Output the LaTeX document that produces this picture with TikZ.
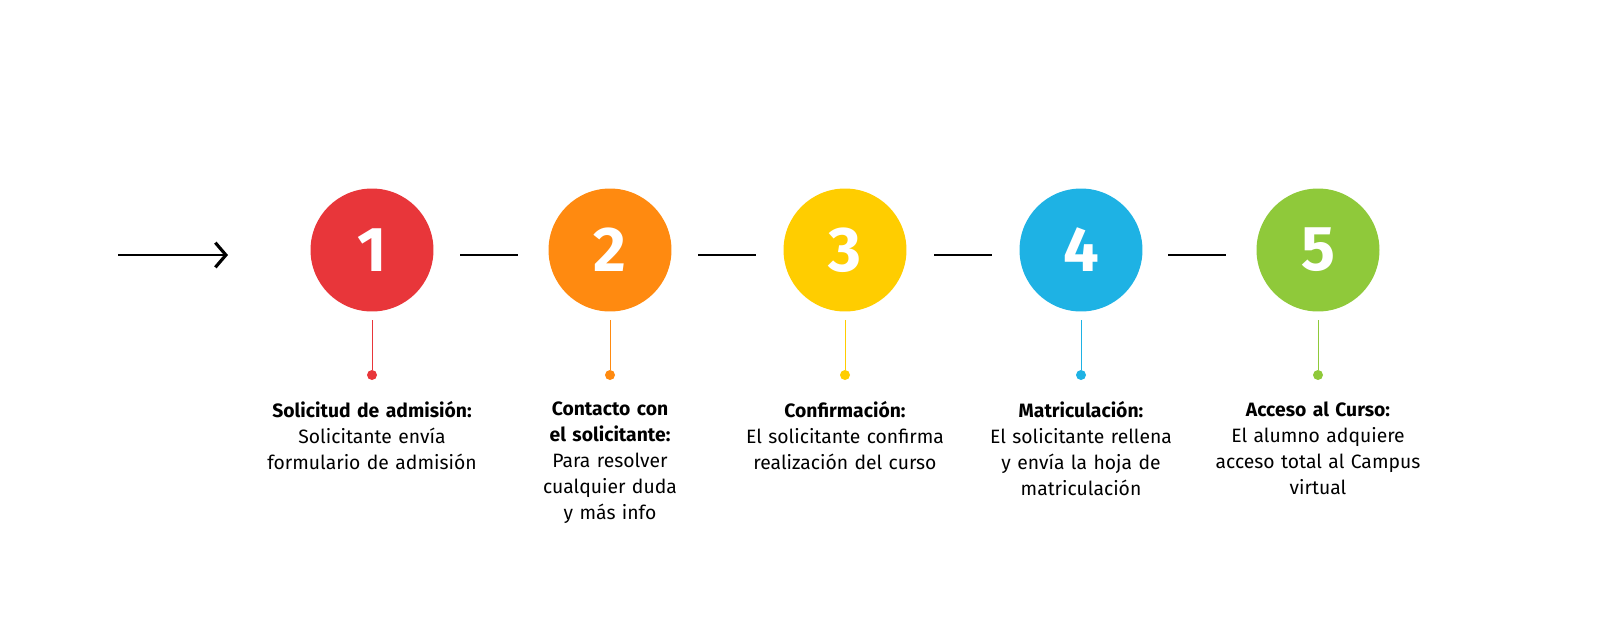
\documentclass[tikz,border=0pt]{standalone}
\usepackage{fontspec}
\setmainfont{Fira Sans}
\usetikzlibrary{arrows.meta}
\definecolor{c1}{HTML}{E8363A}
\definecolor{c2}{HTML}{FF8A10}
\definecolor{c3}{HTML}{FFCD00}
\definecolor{c4}{HTML}{1EB2E4}
\definecolor{c5}{HTML}{8FC93A}
\begin{document}
\begin{tikzpicture}[x=0.02cm,y=-0.02cm,
  num/.style={circle,minimum size=2.46cm,inner sep=0,text=white,font=\fontsize{36}{36}\selectfont\bfseries},
  link/.style={line width=1.2pt,black},
  stem/.style={line width=0.5pt},
  dot/.style={circle,minimum size=0.2cm,inner sep=0},
  desc/.style={anchor=north,align=center,text width=5cm,font=\fontsize{11}{14.8}\selectfont,inner sep=0}]
\foreach \i/\x/\c in {1/372/c1,2/610/c2,3/845/c3,4/1081/c4,5/1318/c5}{
  \node[num,fill=\c] (n\i) at (\x,250) {\i};
  \coordinate (s\i) at (\x,320);
  \node[dot,fill=\c] (d\i) at (\x,375) {};
  \draw[stem,\c] (s\i) -- (d\i);
}
\coordinate (a0) at (118,255); \coordinate (a1) at (228,255);
\draw[link,-{Straight Barb[length=6pt,width=14pt,line width=1.8pt]}] (a0) -- (a1);
\foreach \a/\b in {460/518,698/756,934/992,1168/1226}{
  \coordinate (l\a) at (\a,255); \coordinate (r\a) at (\b,255);
  \draw[link] (l\a) -- (r\a);
}
\node[desc] (t1) at (372,401) {\textbf{Solicitud de admisión:}\\Solicitante envía\\formulario de admisión};
\node[desc] (t2) at (610,401) {\textbf{Contacto con}\\\textbf{el solicitante:}\\Para resolver\\cualquier duda\\y más info};
\node[desc] (t3) at (845,401) {\textbf{Confirmación:}\\El solicitante confirma\\realización del curso};
\node[desc] (t4) at (1081,401) {\textbf{Matriculación:}\\El solicitante rellena\\y envía la hoja de\\matriculación};
\node[desc] (t5) at (1318,401) {\textbf{Acceso al Curso:}\\El alumno adquiere\\acceso total al Campus\\virtual};
\pgfresetboundingbox
\useasboundingbox (0,0) rectangle (1600,636);
\end{tikzpicture}
\end{document}
